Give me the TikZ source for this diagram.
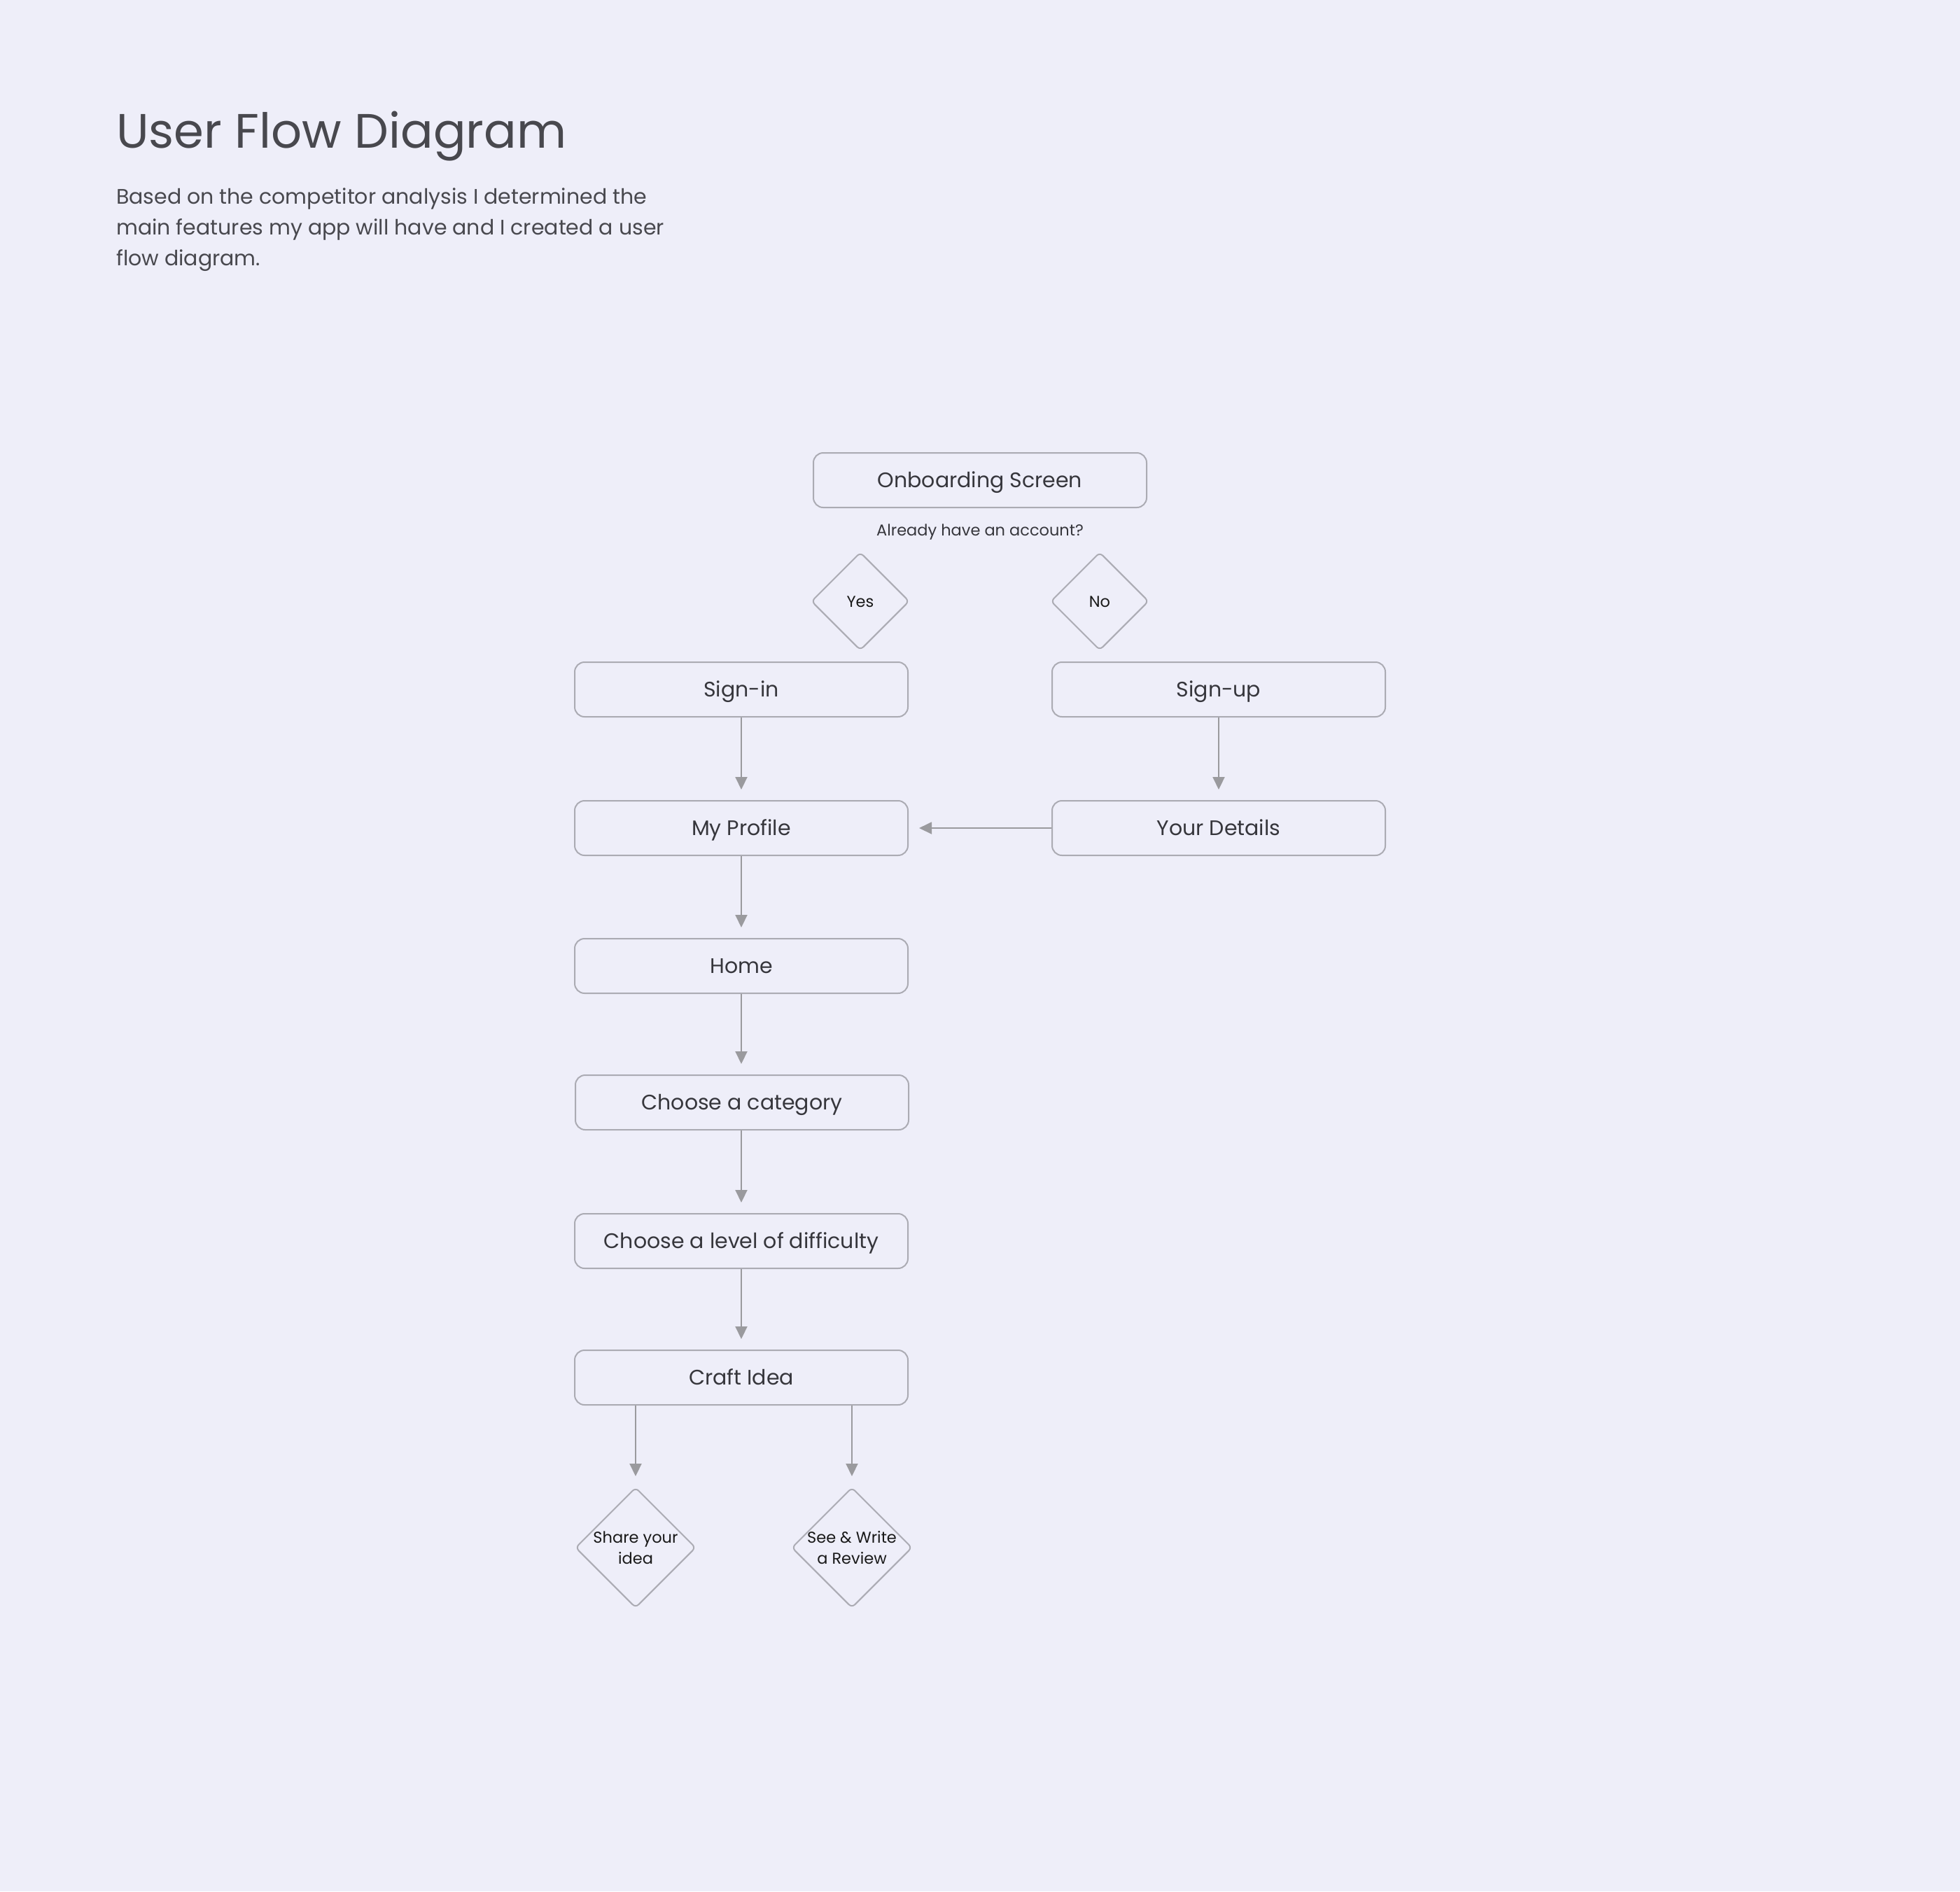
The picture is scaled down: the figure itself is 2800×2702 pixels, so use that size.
\documentclass[tikz,border=0pt]{standalone}
\usepackage{fontspec}
\setmainfont{Poppins}
\usetikzlibrary{shapes.geometric,arrows.meta}
\definecolor{bg}{HTML}{EEEEF9}
\definecolor{edge}{HTML}{ABABB3}
\definecolor{arr}{HTML}{9A9A9E}
\definecolor{txt}{HTML}{36363C}
\definecolor{ttl}{HTML}{48484E}
\begin{document}
\begin{tikzpicture}[x=1pt,y=-1pt,
 box/.style={draw=edge,line width=2pt,rounded corners=14pt,minimum width=476pt,minimum height=78pt,inner sep=0pt,text=txt,font=\fontsize{30}{36}\selectfont,text height=21pt,text depth=0pt},
 dia/.style={draw=edge,line width=2pt,diamond,rounded corners=6pt,minimum width=#1,minimum height=#1,inner sep=0pt},
 diatext/.style={text=black!90,font=\fontsize{22.5}{30}\selectfont,align=center,inner sep=0pt},
 onel/.style={text height=16pt,text depth=0pt},
 flow/.style={draw=arr,line width=2pt,-{Triangle[length=18pt,width=17pt]},shorten >=15pt}
]
\fill[bg] (0,0) rectangle (2800,2702);
\useasboundingbox (0,0) rectangle (2800,2702);

\node[anchor=base west,inner sep=0pt,text=ttl,font=\fontsize{69}{78}\selectfont] (title) at (166,211) {User Flow Diagram};
\node[anchor=north west,inner sep=0pt,text=ttl,align=left,font=\fontsize{30}{44}\selectfont] (para) at (166,268)
 {Based on the competitor analysis I determined the\\main features my app will have and I created a user\\flow diagram.};

\node[box] (onb) at (1400,686) {Onboarding Screen};
\node[text=txt,font=\fontsize{22.5}{26}\selectfont,inner sep=0pt,onel] (q) at (1400,757) {Already have an account?};
\node[dia=140pt] (yes) at (1229,859) {};
\node[diatext,onel] at (yes) {Yes};
\node[dia=140pt] (no) at (1571,859) {};
\node[diatext,onel] at (no) {No};

\node[box] (signin) at (1059,985) {Sign-in};
\node[box] (signup) at (1741,985) {Sign-up};
\node[box] (profile) at (1059,1183) {My Profile};
\node[box] (details) at (1741,1183) {Your Details};
\node[box] (home) at (1059,1380) {Home};
\node[box] (cat) at (1060,1575) {Choose a category};
\node[box] (level) at (1059,1773) {Choose a level of difficulty};
\node[box] (craft) at (1059,1968) {Craft Idea};

\node[dia=172pt] (share) at (908,2211) {};
\node[diatext] at (share) {Share your\\idea};
\node[dia=172pt] (review) at (1217,2211) {};
\node[diatext] at (review) {See \& Write\\a Review};

\draw[flow] (signin) -- (profile);
\draw[flow] (signup) -- (details);
\draw[flow] (details) -- (profile);
\draw[flow] (profile) -- (home);
\draw[flow] (home) -- (cat.north -| home);
\draw[flow] (cat.south -| home) -- (level);
\draw[flow] (level) -- (craft);
\draw[flow] (craft.south -| share) -- (share);
\draw[flow] (craft.south -| review) -- (review);
\end{tikzpicture}
\end{document}
